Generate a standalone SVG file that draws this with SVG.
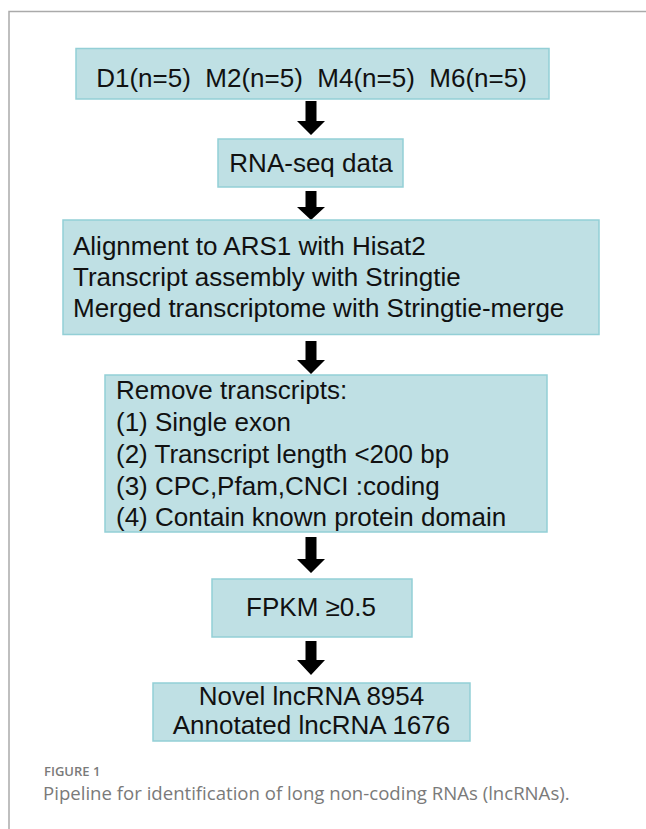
<svg xmlns="http://www.w3.org/2000/svg" width="646" height="829" viewBox="0 0 646 829">
<style>
.box{fill:#bfe0e4;stroke:#93cfd6;stroke-width:1.5}
.t{font-family:"Liberation Sans",Arial,sans-serif;font-size:26px;fill:#111}
.c{text-anchor:middle}
.arr{fill:#000}
.cap1{font-family:"Open Sans","Noto Sans",sans-serif;font-size:13px;font-weight:600;fill:#7a7a7a}
.cap2{font-family:"Open Sans","Noto Sans",sans-serif;font-size:18.6px;fill:#7a7a7a}
</style>
<rect width="646" height="829" fill="#fff"/>
<path d="M9,829 V11.5 H646" fill="none" stroke="#aaa" stroke-width="1.5"/>
<g id="connectors">
<polygon class="arr" points="305.5,101 316.5,101 316.5,121 325,121 311,135 297,121 305.5,121"/>
<polygon class="arr" points="305.5,191 316.5,191 316.5,207 325,207 311,220 297,207 305.5,207"/>
<polygon class="arr" points="305.5,341 316.5,341 316.5,360 325,360 311,374 297,360 305.5,360"/>
<polygon class="arr" points="305.5,537 316.5,537 316.5,559 325,559 311,573 297,559 305.5,559"/>
<polygon class="arr" points="305.5,641 316.5,641 316.5,660 325,660 311,675 297,660 305.5,660"/>
</g>
<g id="samples">
<rect class="box" x="76" y="48.5" width="473" height="50.5"/>
<text class="t c" x="311.5" y="87" style="white-space:pre">D1(n=5)  M2(n=5)  M4(n=5)  M6(n=5)</text>
</g>
<g id="rnaseq">
<rect class="box" x="218" y="139" width="185" height="48"/>
<text class="t c" x="311" y="171.5">RNA-seq data</text>
</g>
<g id="alignment">
<rect class="box" x="63" y="220" width="536" height="114.5"/>
<text class="t" x="73" y="255">Alignment to ARS1 with Hisat2</text>
<text class="t" x="73" y="285.5">Transcript assembly with Stringtie</text>
<text class="t" x="73" y="316.5">Merged transcriptome with Stringtie-merge</text>
</g>
<g id="remove">
<rect class="box" x="105" y="375" width="442" height="157"/>
<text class="t" x="116" y="399">Remove transcripts:</text>
<text class="t" x="116" y="431">(1) Single exon</text>
<text class="t" x="116" y="463">(2) Transcript length &lt;200 bp</text>
<text class="t" x="116" y="494.5">(3) CPC,Pfam,CNCI :coding</text>
<text class="t" x="116" y="526">(4) Contain known protein domain</text>
</g>
<g id="fpkm">
<rect class="box" x="212" y="579" width="200" height="58"/>
<text class="t c" x="311" y="616">FPKM ≥0.5</text>
</g>
<g id="result">
<rect class="box" x="153" y="683" width="317" height="58"/>
<text class="t c" x="311.5" y="705">Novel lncRNA 8954</text>
<text class="t c" x="311.5" y="734">Annotated lncRNA 1676</text>
</g>
<text class="cap1" x="44" y="775.5">FIGURE 1</text>
<text class="cap2" x="43" y="800">Pipeline for identification of long non-coding RNAs (lncRNAs).</text>
</svg>
